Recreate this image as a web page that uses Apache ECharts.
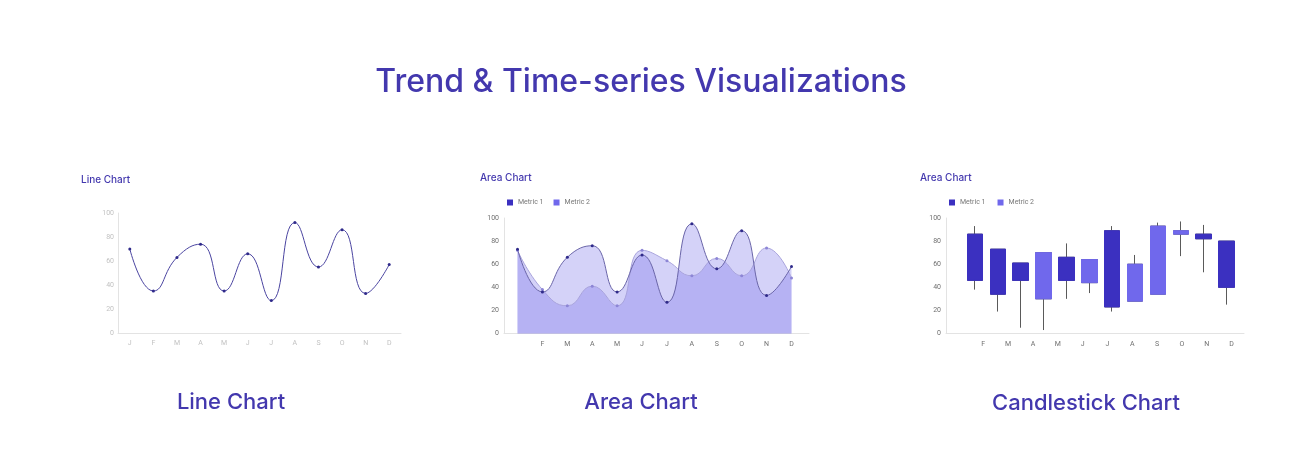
<!DOCTYPE html>
<html lang="en">
<head>
  <meta charset="utf-8">
  <title>Trend & Time-series Visualizations</title>
  <script src="https://cdn.jsdelivr.net/npm/echarts@6/dist/echarts.min.js"></script>
  <style>
    html, body { margin: 0; padding: 0; background: #fff; }
    #main { width: 1290px; height: 470px; }
  </style>
</head>
<body>
<div id="main"></div>
<script>
  // data
  var months = ['J', 'F', 'M', 'A', 'M', 'J', 'J', 'A', 'S', 'O', 'N', 'D'];
  var yTicks = [0, 20, 40, 60, 80, 100];

  var lineValues = [70, 35, 63, 74, 35, 66, 27, 92, 55, 86, 33, 57];

  var areaMetric1 = [73, 36, 66, 76, 36, 68, 27, 95, 56, 89, 33, 58];
  var areaMetric2 = [72, 38, 24, 41, 24, 72, 63, 50, 65, 50, 74, 48];

  var candleOpen  = [86, 73, 61, 30, 66, 44, 89, 28, 34, 86, 86, 80];
  var candleClose = [46, 34, 46, 70, 46, 64, 23, 60, 93, 89, 82, 40];
  var candleLow   = [38, 19,  5,  3, 30, 35, 19, 28, 34, 67, 53, 25];
  var candleHigh  = [93, 73, 61, 70, 78, 64, 93, 68, 96, 97, 94, 80];
  var candleGroup = [1, 1, 1, 2, 1, 2, 1, 2, 2, 2, 1, 1];

  var dark = '#3b30c0';
  var light = '#7068ec';
  var titleColor = '#4338ae';
  var font = 'Inter, "Noto Sans", sans-serif';
  var axisFont = 'Roboto, sans-serif';

  var chart = echarts.init(document.getElementById('main'));

  // full candle (for wicks) and box-only candles per metric
  var wickData = [], boxes1 = [], boxes2 = [];
  for (var i = 0; i < months.length; i++) {
    var o = candleOpen[i], c = candleClose[i];
    wickData.push([o, c, candleLow[i], candleHigh[i]]);
    var box = [o, c, Math.min(o, c), Math.max(o, c)];
    boxes1.push(candleGroup[i] === 1 ? box : '-');
    boxes2.push(candleGroup[i] === 2 ? box : '-');
  }

  function hideFirst(v, idx) { return idx === 0 ? '' : v; }

  var yVisible = function (grid, color, margin) {
    return {
      type: 'value', gridIndex: grid, min: 0, max: 100, interval: 20,
      axisLine: { show: true, lineStyle: { color: '#e3e3e3' } },
      axisTick: { show: false },
      splitLine: { show: false },
      axisLabel: { color: color, fontSize: 7, fontFamily: axisFont, margin: margin }
    };
  };
  var yHidden = function (grid) {
    return { type: 'value', gridIndex: grid, min: 0, max: 100, show: false };
  };

  var option = {
    animation: false,
    graphic: [
      { type: 'text', x: 641, y: 82, style: { text: 'Trend & Time-series Visualizations', font: '500 32px ' + font, fill: titleColor, textAlign: 'center', textVerticalAlign: 'middle' } },
      { type: 'text', x: 81, y: 180, style: { text: 'Line Chart', font: '500 10px ' + font, fill: titleColor, textVerticalAlign: 'middle' } },
      { type: 'text', x: 480, y: 178, style: { text: 'Area Chart', font: '500 10px ' + font, fill: titleColor, textVerticalAlign: 'middle' } },
      { type: 'text', x: 920, y: 178, style: { text: 'Area Chart', font: '500 10px ' + font, fill: titleColor, textVerticalAlign: 'middle' } },
      { type: 'text', x: 231, y: 402, style: { text: 'Line Chart', font: '500 22px ' + font, fill: titleColor, textAlign: 'center', textVerticalAlign: 'middle' } },
      { type: 'text', x: 641, y: 402, style: { text: 'Area Chart', font: '500 22px ' + font, fill: titleColor, textAlign: 'center', textVerticalAlign: 'middle' } },
      { type: 'text', x: 1086, y: 403, style: { text: 'Candlestick Chart', font: '500 22px ' + font, fill: titleColor, textAlign: 'center', textVerticalAlign: 'middle' } }
    ],
    legend: [
      {
        left: 502, top: 194, itemWidth: 6, itemHeight: 6, itemGap: 10, icon: 'rect',
        textStyle: { fontSize: 7, color: '#777', fontFamily: axisFont },
        data: [{ name: 'Metric 1', itemStyle: { color: dark } }, { name: 'Metric 2', itemStyle: { color: light } }]
      },
      {
        left: 944, top: 194, itemWidth: 6, itemHeight: 6, itemGap: 12, icon: 'rect',
        textStyle: { fontSize: 7, color: '#777', fontFamily: axisFont },
        data: [{ name: 'Metric 1', itemStyle: { color: dark } }, { name: 'Metric 2', itemStyle: { color: light } }]
      }
    ],
    grid: [
      { left: 118, top: 213, width: 283, height: 120 },      // 0 line chart
      { left: 504, top: 218, width: 305, height: 115.5 },    // 1 area frame
      { left: 517.5, top: 218, width: 274, height: 115.5 },  // 2 area data
      { left: 946, top: 218, width: 298, height: 115.5 },    // 3 candle frame
      { left: 963.5, top: 218, width: 274.5, height: 115.5 } // 4 candle data
    ],
    xAxis: [
      {
        type: 'category', gridIndex: 0, data: months, boundaryGap: true,
        axisLine: { lineStyle: { color: '#e3e3e3' } }, axisTick: { show: false },
        axisLabel: { color: '#c2c2c2', fontSize: 7, fontFamily: axisFont, margin: 7 }
      },
      {
        type: 'value', gridIndex: 1, min: 0, max: 1,
        axisLine: { show: true, lineStyle: { color: '#e3e3e3' } },
        axisTick: { show: false }, axisLabel: { show: false }, splitLine: { show: false }
      },
      {
        type: 'category', gridIndex: 2, data: months, boundaryGap: false,
        axisLine: { show: false }, axisTick: { show: false },
        axisLabel: { color: '#707070', fontSize: 7, fontFamily: axisFont, margin: 7, formatter: hideFirst, interval: 0 }
      },
      {
        type: 'category', gridIndex: 3, data: months, boundaryGap: true,
        axisLine: { lineStyle: { color: '#e3e3e3' } }, axisTick: { show: false },
        axisLabel: { color: '#707070', fontSize: 7, fontFamily: axisFont, margin: 7, formatter: hideFirst, interval: 0 }
      },
      { type: 'category', gridIndex: 4, data: months, boundaryGap: true, show: false }
    ],
    yAxis: [
      yVisible(0, '#c2c2c2', 4),
      yVisible(1, '#707070', 5),
      yHidden(2),
      yVisible(3, '#707070', 5),
      yHidden(4)
    ],
    series: [
      {
        name: 'line', type: 'line', xAxisIndex: 0, yAxisIndex: 0, data: lineValues,
        smooth: true, symbol: 'circle', symbolSize: 3,
        lineStyle: { color: '#4a44a0', width: 1 },
        itemStyle: { color: '#2f2a8a' }
      },
      {
        name: 'Metric 2', type: 'line', xAxisIndex: 2, yAxisIndex: 2, data: areaMetric2,
        smooth: true, symbol: 'circle', symbolSize: 3,
        lineStyle: { color: '#a9a4dc', width: 1 },
        itemStyle: { color: '#8d86d6' },
        areaStyle: { color: 'rgba(108,99,230,0.29)', opacity: 1, origin: 'start' }
      },
      {
        name: 'Metric 1', type: 'line', xAxisIndex: 2, yAxisIndex: 2, data: areaMetric1,
        smooth: true, symbol: 'circle', symbolSize: 3,
        lineStyle: { color: '#6a65a8', width: 1 },
        itemStyle: { color: '#2f2a8a' },
        areaStyle: { color: 'rgba(108,99,230,0.29)', opacity: 1, origin: 'start' }
      },
      {
        name: 'wick', type: 'candlestick', xAxisIndex: 4, yAxisIndex: 4, data: wickData,
        barWidth: 16,
        itemStyle: { color: '#5a5a5a', color0: '#5a5a5a', borderColor: '#5a5a5a', borderColor0: '#5a5a5a', borderWidth: 1 }
      },
      {
        name: 'Metric 1', type: 'candlestick', xAxisIndex: 4, yAxisIndex: 4, data: boxes1,
        barWidth: 16,
        itemStyle: { color: dark, color0: dark, borderColor: dark, borderColor0: dark, borderWidth: 1 }
      },
      {
        name: 'Metric 2', type: 'candlestick', xAxisIndex: 4, yAxisIndex: 4, data: boxes2,
        barWidth: 16,
        itemStyle: { color: light, color0: light, borderColor: light, borderColor0: light, borderWidth: 1 }
      }
    ]
  };
  chart.setOption(option);

  window.addEventListener('resize', function () { chart.resize(); });
</script>
</body>
</html>
